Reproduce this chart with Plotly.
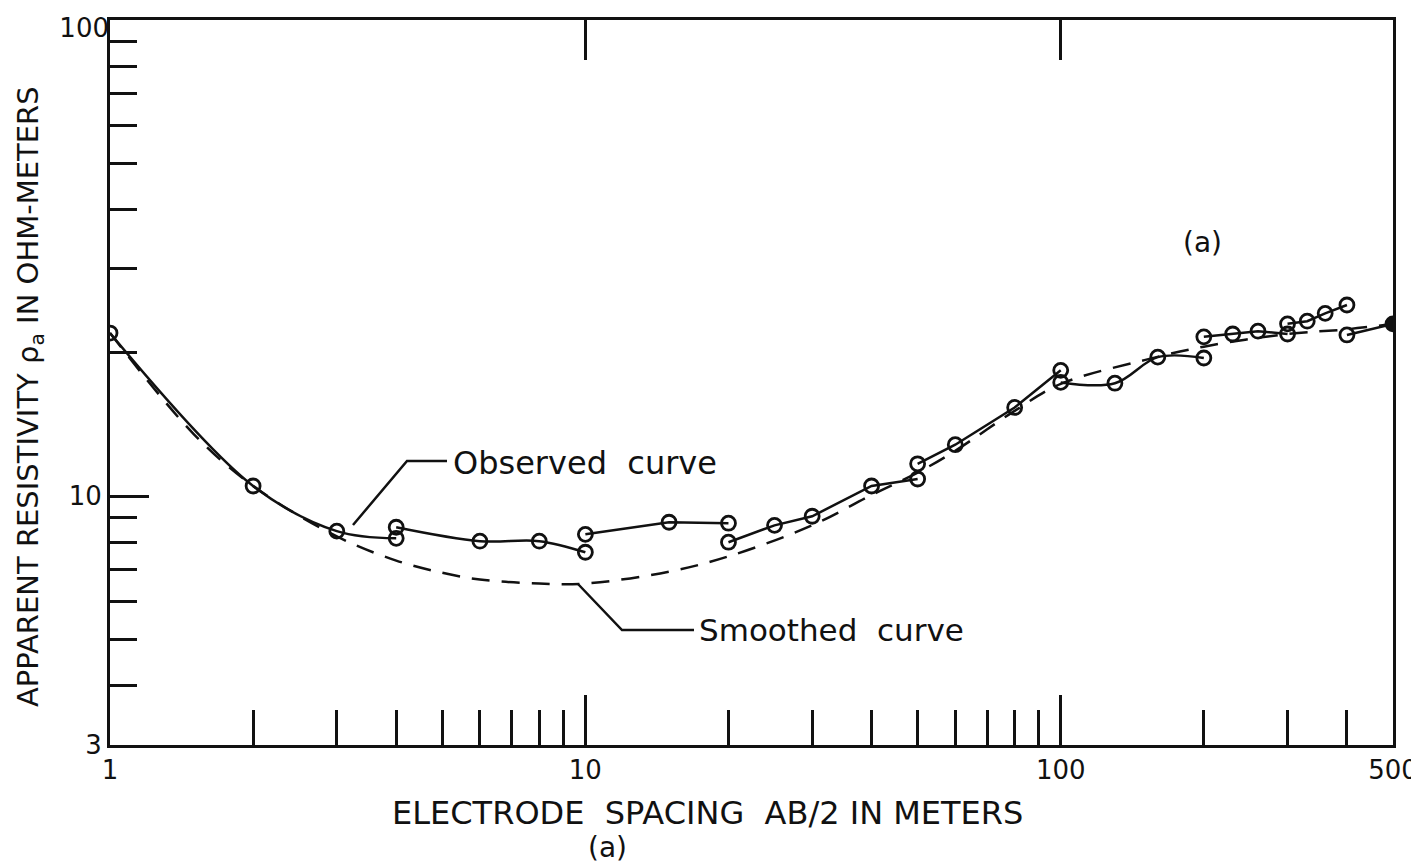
import math
import plotly.graph_objects as go

# ---- data ----
seg1_x = [1, 2, 3, 4]
seg1_y = [22.0, 10.5, 8.44, 8.15]
seg2_x = [4, 6, 8, 10]
seg2_y = [8.6, 8.04, 8.04, 7.62]
seg3_x = [10, 15, 20]
seg3_y = [8.31, 8.81, 8.77]
seg4_x = [20, 25, 30, 40, 50]
seg4_y = [8.0, 8.68, 9.07, 10.5, 10.86]
seg5_x = [50, 60, 80, 100]
seg5_y = [11.69, 12.82, 15.35, 18.37]
seg6_x = [100, 130, 160, 200]
seg6_y = [17.33, 17.26, 19.58, 19.5]
seg7_x = [200, 230, 260, 300]
seg7_y = [21.6, 21.9, 22.2, 21.9]
seg8_x = [300, 330, 360, 400]
seg8_y = [23.0, 23.3, 24.2, 25.2]
seg9_x = [400, 500]
seg9_y = [21.8, 23.0]

smooth_x = [1, 1.5, 2, 3, 4, 5, 6, 8, 10, 15, 20, 30, 40, 50, 60, 80, 100, 150, 200, 300, 400, 500]
smooth_y = [22.0, 13.5, 10.5, 8.23, 7.32, 6.9, 6.68, 6.55, 6.55, 6.94, 7.47, 8.68, 10.05,
            11.2, 12.45, 15.1, 17.2, 19.3, 20.6, 21.9, 22.4, 23.0]

x_ticks = [1, 2, 3, 4, 5, 6, 7, 8, 9, 10, 20, 30, 40, 50, 60, 70, 80, 90, 100, 200, 300, 400, 500]
x_labels = {1: "1", 10: "10", 100: "100", 500: "500"}
y_ticks = [3, 4, 5, 6, 7, 8, 9, 10, 20, 30, 40, 50, 60, 70, 80, 90, 100]
y_labels = {3: "3", 10: "10"}
y_top_tick = [100]
y_top_label = ["100"]
major_x = [10, 100]
major_y = [10]

FONT = "DejaVu Sans"
BLACK = "#111111"

segments = [(seg1_x, seg1_y, "spline"), (seg2_x, seg2_y, "spline"), (seg3_x, seg3_y, "linear"),
            (seg4_x, seg4_y, "linear"), (seg5_x, seg5_y, "linear"), (seg6_x, seg6_y, "spline"),
            (seg7_x, seg7_y, "linear"), (seg8_x, seg8_y, "linear"), (seg9_x, seg9_y, "linear")]

fig = go.Figure()

fig.add_trace(go.Scatter(x=smooth_x, y=smooth_y, mode="lines",
                         line=dict(color=BLACK, width=2.5, dash="18px,12px", shape="spline"),
                         showlegend=False, hoverinfo="skip"))

for sx, sy, shp in segments:
    fig.add_trace(go.Scatter(x=sx, y=sy, mode="lines+markers",
                             line=dict(color=BLACK, width=2.5, shape=shp),
                             marker=dict(symbol="circle-open", size=14, color=BLACK,
                                         line=dict(width=2.8, color=BLACK)),
                             showlegend=False, hoverinfo="skip"))

# filled end point at 500
fig.add_trace(go.Scatter(x=[seg9_x[-1]], y=[seg9_y[-1]], mode="markers",
                         marker=dict(symbol="circle", size=14, color=BLACK),
                         showlegend=False, hoverinfo="skip"))

# empty traces so the overlay tick axes are drawn
fig.add_trace(go.Scatter(x=[], y=[], xaxis="x2", yaxis="y", showlegend=False))
fig.add_trace(go.Scatter(x=[], y=[], xaxis="x3", yaxis="y", showlegend=False))
fig.add_trace(go.Scatter(x=[], y=[], xaxis="x", yaxis="y2", showlegend=False))
fig.add_trace(go.Scatter(x=[], y=[], xaxis="x", yaxis="y3", showlegend=False))

xr = [0, math.log10(500)]
yr = [math.log10(3), 2]

# the page body adds an 8px offset, so the figure is sized/margined to compensate
fig.update_layout(
    width=1411, height=858,
    margin=dict(l=102, r=26, t=12, b=121, autoexpand=False),
    paper_bgcolor="white", plot_bgcolor="white",
    font=dict(family=FONT, color=BLACK),
    xaxis=dict(type="log", range=xr, showgrid=False, zeroline=False, automargin=False,
               showline=True, linecolor=BLACK, linewidth=3, mirror=True,
               tickmode="array", tickvals=x_ticks,
               ticktext=[x_labels.get(v, "") for v in x_ticks],
               ticks="inside", ticklen=35, tickwidth=3, tickcolor=BLACK,
               ticklabeloverflow="allow",
               tickfont=dict(size=26, family=FONT, color=BLACK)),
    xaxis2=dict(type="log", range=xr, overlaying="x", side="top", anchor="y", automargin=False,
                showgrid=False, zeroline=False, showline=False, showticklabels=False,
                tickmode="array", tickvals=major_x,
                ticks="inside", ticklen=40, tickwidth=3, tickcolor=BLACK),
    xaxis3=dict(type="log", range=xr, overlaying="x", side="bottom", anchor="y", automargin=False,
                showgrid=False, zeroline=False, showline=False, showticklabels=False,
                tickmode="array", tickvals=major_x,
                ticks="inside", ticklen=50, tickwidth=3, tickcolor=BLACK),
    yaxis=dict(type="log", range=yr, showgrid=False, zeroline=False, automargin=False,
               showline=True, linecolor=BLACK, linewidth=3, mirror=True,
               tickmode="array", tickvals=y_ticks,
               ticktext=[y_labels.get(v, "") for v in y_ticks],
               ticks="inside", ticklen=27, tickwidth=3, tickcolor=BLACK,
               ticklabeloverflow="allow",
               tickfont=dict(size=26, family=FONT, color=BLACK)),
    yaxis2=dict(type="log", range=yr, overlaying="y", side="left", anchor="x", automargin=False,
                showgrid=False, zeroline=False, showline=False, showticklabels=False,
                tickmode="array", tickvals=major_y,
                ticks="inside", ticklen=39, tickwidth=3, tickcolor=BLACK),
    yaxis3=dict(type="log", range=yr, overlaying="y", side="left", anchor="x", automargin=False,
                showgrid=False, zeroline=False, showline=False, ticks="",
                tickmode="array", tickvals=y_top_tick, ticktext=y_top_label,
                ticklabelshift=8, ticklabeloverflow="allow",
                tickfont=dict(size=26, family=FONT, color=BLACK)),
)


# page-pixel -> paper-fraction helpers (plot area spans x 110..1393, y 20..745 on the page)
def px(xp):
    return (xp - 110) / 1283


def py(yp):
    return (745 - yp) / 725


annotations = [
    dict(text="ELECTRODE  SPACING  AB/2 IN METERS", x=px(707), y=py(813), size=32),
    dict(text="(a)", x=px(607), y=py(847)),
    dict(text="APPARENT RESISTIVITY ρ<sub>a</sub> IN OHM-METERS", x=px(30), y=py(397),
         textangle=-90, size=29),
    dict(text="(a)", x=px(1202), y=py(243)),
    dict(text="Observed  curve", x=px(451), y=py(463), xanchor="left", size=32),
    dict(text="Smoothed  curve", x=px(697), y=py(630), xanchor="left", size=31),
]
fig.update_layout(annotations=[
    dict(text=a["text"], xref="paper", yref="paper", x=a["x"], y=a["y"],
         xanchor=a.get("xanchor", "center"), yanchor="middle",
         textangle=a.get("textangle", 0), showarrow=False,
         font=dict(size=a.get("size", 28), family=FONT, color=BLACK))
    for a in annotations
])

# leader lines for the labels
leaders = [
    [(447, 461), (407, 461), (353, 525)],
    [(694, 630), (622, 630), (578, 584)],
]
for pts in leaders:
    path = "M " + " L ".join(f"{px(a):.5f},{py(b):.5f}" for a, b in pts)
    fig.add_shape(type="path", path=path, xref="paper", yref="paper",
                  line=dict(color=BLACK, width=2.5))

fig.write_html("out.html")
